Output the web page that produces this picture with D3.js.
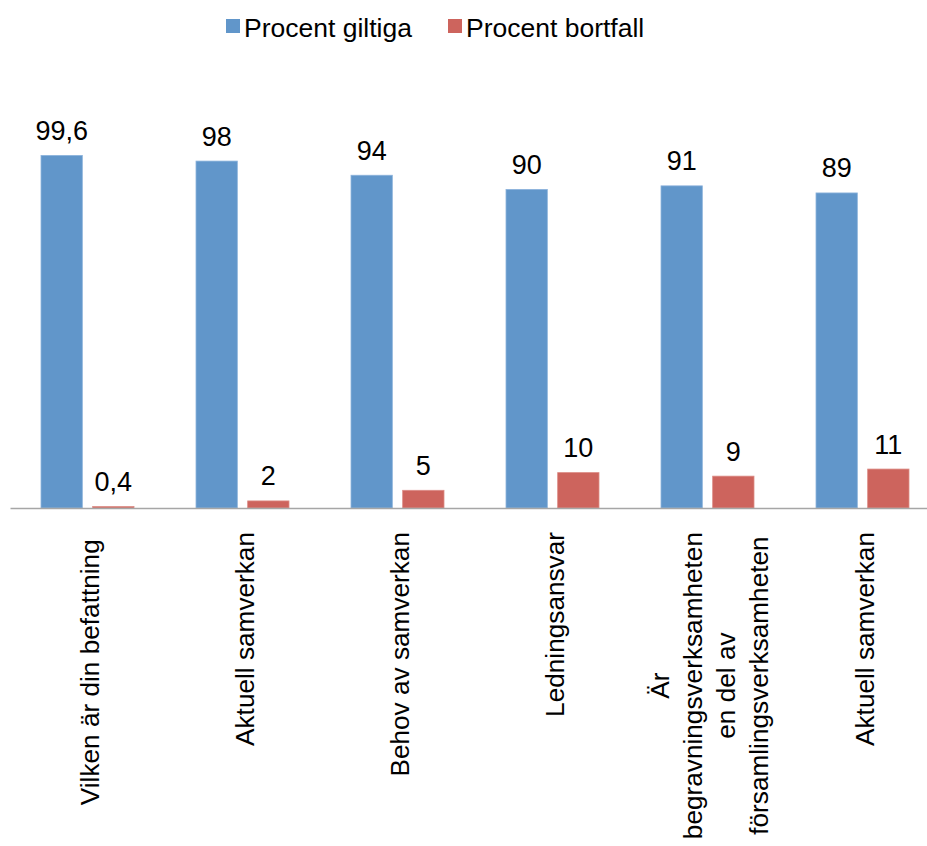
<!DOCTYPE html>
<html>
<head>
<meta charset="utf-8">
<script src="https://cdn.jsdelivr.net/npm/d3@7"></script>
<style>
  html, body { margin: 0; padding: 0; background: #fff; }
  svg { display: block; font-family: "Liberation Sans", Arial, sans-serif; }
</style>
</head>
<body>
<svg id="chart" width="927" height="846"></svg>
<script>
// Question labels (line breaks split a label over several lines)
const categories = [
  "Vilken är din befattning ",
  "Aktuell samverkan",
  "Behov av samverkan",
  "Ledningsansvar",
  "Är\nbegravningsverksamheten\nen del av\nförsamlingsverksamheten",
  "Aktuell samverkan"
];
const seriesNames = ["Procent giltiga", "Procent bortfall"];
const giltiga = [99.6, 98, 94, 90, 91, 89];
const bortfall = [0.4, 2, 5, 10, 9, 11];
const seriesColors = ["#6196CA", "#CD645D"];
const seriesStroke = ["#8DB3DC", "#DC8C86"];

const svg = d3.select("#chart");
const valueFont = 27;
const labelFont = 26.2;

const rows = categories.map((c, i) => ({ key: i, label: c, values: [giltiga[i], bortfall[i]] }));

const x0 = d3.scaleBand().domain(d3.range(categories.length)).range([10, 940]).padding(0);
const x1 = d3.scaleBand().domain([0, 1])
  .range([x0.bandwidth() * 0.2, x0.bandwidth() * 0.8]).paddingInner(0.2).paddingOuter(0);
const y = d3.scaleLinear().domain([0, 100]).range([508, 154]);

const sv = d3.formatLocale({ decimal: ",", thousands: " ", grouping: [3], currency: ["", " kr"] });
const fmt = v => Number.isInteger(v) ? String(v) : sv.format(".1f")(v);

// Bars
const groups = svg.append("g").selectAll("g")
  .data(rows).join("g")
  .attr("transform", d => `translate(${x0(d.key)},0)`);

groups.selectAll("rect")
  .data(d => d.values.map((v, s) => ({ v, s })))
  .join("rect")
  .attr("x", d => x1(d.s))
  .attr("width", x1.bandwidth())
  .attr("y", d => y(d.v))
  .attr("height", d => y(0) - y(d.v))
  .attr("fill", d => seriesColors[d.s])
  .attr("stroke", d => seriesStroke[d.s])
  .attr("stroke-width", 0.8);

// Value labels
groups.selectAll("text.val")
  .data(d => d.values.map((v, s) => ({ v, s })))
  .join("text")
  .attr("class", "val")
  .attr("x", d => x1(d.s) + x1.bandwidth() / 2)
  .attr("y", d => y(d.v) - 15.5)
  .attr("text-anchor", "middle")
  .attr("font-size", valueFont)
  .attr("fill", "#000")
  .text(d => fmt(d.v));

// Category axis line
const axis = svg.append("g")
  .attr("transform", `translate(0,${y(0)})`)
  .call(d3.axisBottom(x0).tickSize(0).tickSizeOuter(0).tickFormat(() => ""));
axis.select(".domain").attr("stroke", "#A6A6A6").attr("stroke-width", 1.6);

// Rotated category labels, lines centred on each other, block starting below the axis
const labelTop = 532;
const lineGap = 33;
rows.forEach(d => {
  const lines = d.label.split("\n");
  const cx = x0(d.key) + x0.bandwidth() / 2;
  const g = svg.append("g").attr("transform", `translate(${cx},0) rotate(-90)`);
  const texts = lines.map((ln, i) => g.append("text")
    .attr("font-size", labelFont)
    .attr("fill", "#000")
    .attr("text-anchor", "middle")
    .style("white-space", "pre")
    .attr("y", 11 + (i - (lines.length - 1) / 2) * lineGap)
    .text(ln));
  const maxLen = d3.max(texts, t => t.node().getComputedTextLength());
  texts.forEach(t => t.attr("x", -(labelTop + maxLen / 2)));
});

// Legend
const legend = svg.append("g");
const legendX = [226, 448];
seriesNames.forEach((name, i) => {
  legend.append("rect")
    .attr("x", legendX[i]).attr("y", 19)
    .attr("width", 14).attr("height", 14)
    .attr("fill", seriesColors[i]);
  legend.append("text")
    .attr("x", legendX[i] + 18).attr("y", 37)
    .attr("font-size", 26.5)
    .attr("fill", "#000")
    .text(name);
});
</script>
</body>
</html>
